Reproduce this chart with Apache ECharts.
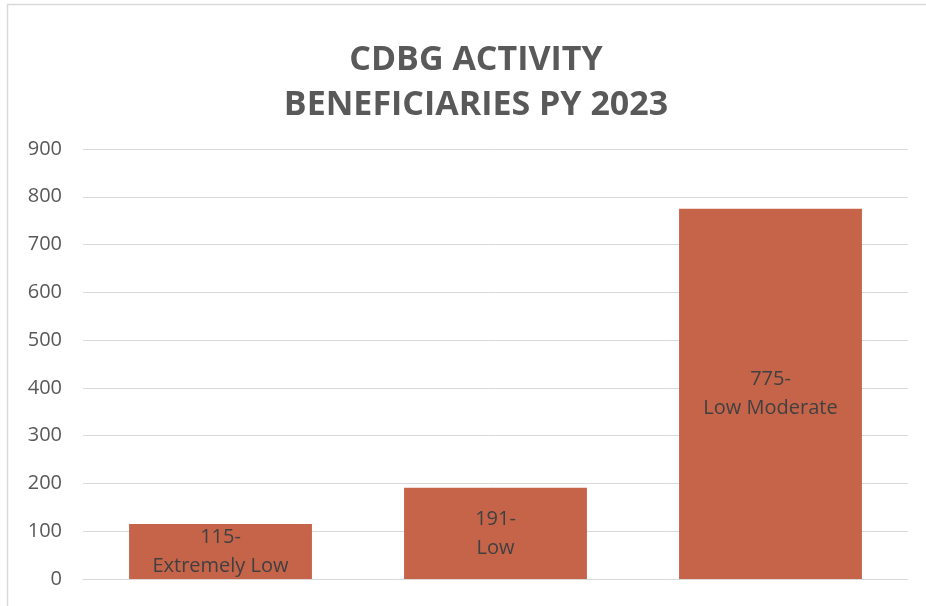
<!DOCTYPE html>
<html>
<head>
<meta charset="utf-8">
<script src="https://cdn.jsdelivr.net/npm/echarts@6/dist/echarts.min.js"></script>
<style>
html,body{margin:0;padding:0;background:#fff;}
#c{width:926px;height:606px;}
</style>
</head>
<body>
<div id="c"></div>
<script>
const titleText = "CDBG ACTIVITY\nBENEFICIARIES PY 2023";
const categories = ["Extremely Low", "Low", "Low Moderate"];
const values = [115, 191, 775];
const yTicks = { min: 0, max: 900, interval: 100 };

const chart = echarts.init(document.getElementById('c'), null, { renderer: 'canvas' });
chart.setOption({
  backgroundColor: '#ffffff',
  animation: false,
  graphic: [{
    type: 'rect',
    shape: { x: 7.5, y: 4.5, width: 1000, height: 700 },
    style: { fill: 'none', stroke: '#d9d9d9', lineWidth: 1.5 },
    silent: true
  }],
  title: {
    text: titleText,
    left: 476,
    textAlign: 'center',
    top: 38,
    padding: 0,
    textStyle: {
      fontFamily: 'Open Sans',
      fontWeight: 'bold',
      fontSize: 34,
      color: '#595959',
      lineHeight: 45
    }
  },
  grid: { left: 83, right: 18, top: 149, bottom: 27, containLabel: false },
  xAxis: {
    type: 'category',
    data: categories,
    axisLine: { show: true, lineStyle: { color: '#d9d9d9', width: 1 } },
    axisTick: { show: false },
    axisLabel: { show: false }
  },
  yAxis: {
    type: 'value',
    min: yTicks.min,
    max: yTicks.max,
    interval: yTicks.interval,
    axisLine: { show: false },
    axisTick: { show: false },
    axisLabel: {
      color: '#595959',
      fontFamily: 'Open Sans',
      fontSize: 20,
      margin: 21
    },
    splitLine: { lineStyle: { color: '#d9d9d9', width: 1 } }
  },
  series: [{
    type: 'bar',
    data: values,
    barWidth: '66.5%',
    itemStyle: { color: '#c6644a' },
    label: {
      show: true,
      position: 'inside',
      formatter: p => p.value + '-\n' + p.name,
      color: '#404040',
      fontFamily: 'Open Sans',
      fontSize: 20,
      lineHeight: 29
    }
  }]
});
</script>
</body>
</html>
